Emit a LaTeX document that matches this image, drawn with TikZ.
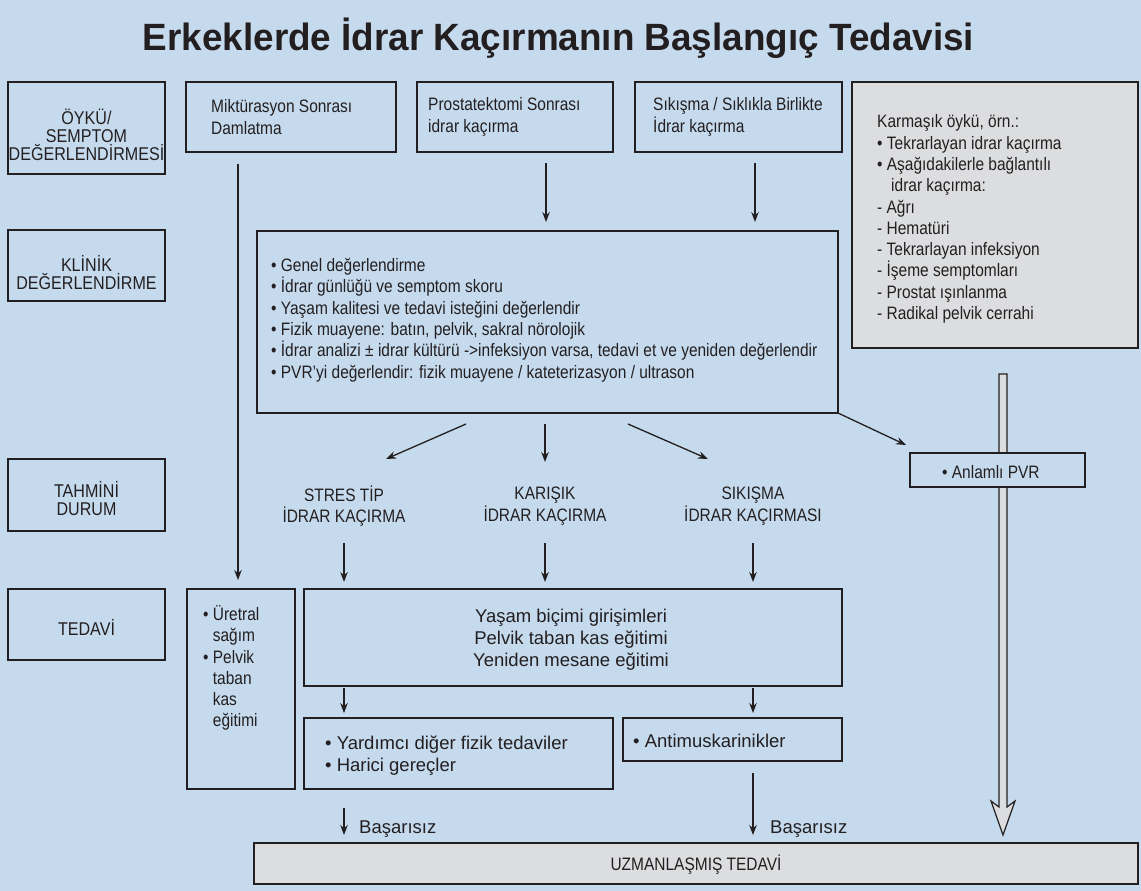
\documentclass[tikz,border=0pt]{standalone}
\usepackage{fontspec}
\setmainfont{Liberation Sans}
\newfontfamily\condf{Liberation Sans}[FakeStretch=0.86]
\newfontfamily\labf{Liberation Sans}[FakeStretch=0.87]
\newfontfamily\titlef{Liberation Sans}[FakeStretch=0.97]
\usetikzlibrary{arrows.meta,calc}
\definecolor{bgblue}{RGB}{198,218,238}
\definecolor{boxgray}{RGB}{220,221,223}
\definecolor{ink}{RGB}{35,31,32}
\tikzset{
 box/.style={draw=ink, line width=1.5pt, fill=bgblue, inner sep=0pt, outer sep=0pt},
 graybox/.style={box, fill=boxgray},
 ctext/.style={text=ink, inner sep=0pt, font=\condf\fontsize{18}{21.3}\selectfont},
 ltext/.style={text=ink, inner sep=0pt, font=\labf\fontsize{18.5}{18}\selectfont, align=center},
 rtext/.style={text=ink, inner sep=0pt, font=\fontsize{18.5}{22}\selectfont},
 arr/.style={draw=ink, line width=1.3pt, -{Stealth[length=10pt,width=7.5pt]}},
}
\begin{document}
\begin{tikzpicture}[x=1pt,y=-1pt]
\fill[bgblue] (0,0) rectangle (1141,891);
\useasboundingbox (0,0) rectangle (1141,891);

\node[text=ink, inner sep=0pt, font=\titlef\bfseries\fontsize{38}{40}\selectfont, anchor=base] (title) at (558.5,51) {Erkeklerde İdrar Kaçırmanın Başlangıç Tedavisi};

% hollow double arrow (behind the PVR box)
\coordinate (dtop) at (1003,374);
\coordinate (dtip) at (1003,835);
\filldraw[fill=boxgray, draw=ink, line width=1.2pt] ($(dtop)+(-4,0)$) -- ($(dtop)+(4,0)$) -- ($(dtip)+(4,-28)$) -- ($(dtip)+(12,-34)$) -- (dtip) -- ($(dtip)+(-12,-34)$) -- ($(dtip)+(-4,-28)$) -- cycle;

% boxes
\node[box, minimum width=157pt, minimum height=92pt] (lab1) at (86.5,128) {};
\node[box, minimum width=157pt, minimum height=71pt] (lab2) at (86.5,265.5) {};
\node[box, minimum width=157pt, minimum height=72pt] (lab3) at (86.5,495) {};
\node[box, minimum width=157pt, minimum height=71pt] (lab4) at (86.5,624.5) {};
\node[box, minimum width=210pt, minimum height=70pt] (mikt) at (291,117) {};
\node[box, minimum width=196pt, minimum height=70pt] (prost) at (515,117) {};
\node[box, minimum width=207pt, minimum height=70pt] (sik) at (738.5,117) {};
\node[graybox, minimum width=286pt, minimum height=266pt] (karm) at (995,215) {};
\node[box, minimum width=581pt, minimum height=182pt] (clin) at (547.5,322) {};
\node[box, minimum width=175pt, minimum height=34pt] (pvr) at (997.5,470) {};
\node[box, minimum width=108pt, minimum height=200pt] (uret) at (241,689) {};
\node[box, minimum width=538pt, minimum height=97pt] (life) at (573,637.5) {};
\node[box, minimum width=309pt, minimum height=71pt] (yard) at (458.5,753.5) {};
\node[box, minimum width=219pt, minimum height=43pt] (anti) at (732.5,739.5) {};
\node[graybox, minimum width=884pt, minimum height=41pt] (uzm) at (696,863.5) {};

% texts
\node[ltext] (lab1t) at (86.5,135) {ÖYKÜ/\\SEMPTOM\\DEĞERLENDİRMESİ};
\node[ltext] (lab2t) at (86.5,273) {KLİNİK\\DEĞERLENDİRME};
\node[ltext] (lab3t) at (86.5,499) {TAHMİNİ\\DURUM};
\node[ltext] (lab4t) at (86.5,627) {TEDAVİ};

\node[ctext, align=left, anchor=west] (miktt) at (211,117) {Miktürasyon Sonrası\\Damlatma};
\node[ctext, align=left, anchor=west] (prostt) at (428,117) {Prostatektomi Sonrası\\idrar kaçırma};
\node[ctext, align=left, anchor=west] (sikt) at (653,117) {Sıkışma / Sıklıkla Birlikte\\İdrar kaçırma};
\node[ctext, align=left, anchor=west] (karmt) at (877,219) {Karmaşık öykü, örn.:\\• Tekrarlayan idrar kaçırma\\• Aşağıdakilerle bağlantılı\\ \hspace*{14pt}idrar kaçırma:\\- Ağrı\\- Hematüri\\- Tekrarlayan infeksiyon\\- İşeme semptomları\\- Prostat ışınlanma\\- Radikal pelvik cerrahi};
\node[ctext, align=left, anchor=west] (clint) at (271,320) {• Genel değerlendirme\\• İdrar günlüğü ve semptom skoru\\• Yaşam kalitesi ve tedavi isteğini değerlendir\\• Fizik muayene: batın, pelvik, sakral nörolojik\\• İdrar analizi ± idrar kültürü ->infeksiyon varsa, tedavi et ve yeniden değerlendir\\• PVR’yi değerlendir: fizik muayene / kateterizasyon / ultrason};
\node[ctext, anchor=west] (pvrt) at (942,472) {• Anlamlı PVR};
\node[ctext, align=center] (stres) at (344,506) {STRES TİP\\İDRAR KAÇIRMA};
\node[ctext, align=center] (karis) at (545,506) {KARIŞIK\\İDRAR KAÇIRMA};
\node[ctext, align=center] (sikis) at (753,506) {SIKIŞMA\\İDRAR KAÇIRMASI};
\node[rtext, align=center] (lifet) at (571,640) {Yaşam biçimi girişimleri\\Pelvik taban kas eğitimi\\Yeniden mesane eğitimi};
\node[ctext, align=left, anchor=west] (urett) at (203,668) {• Üretral\\ \hspace*{9.7pt}sağım\\• Pelvik\\ \hspace*{9.7pt}taban\\ \hspace*{9.7pt}kas\\ \hspace*{9.7pt}eğitimi};
\node[rtext, align=left, anchor=west] (yardt) at (325,756) {• Yardımcı diğer fizik tedaviler\\• Harici gereçler};
\node[rtext, anchor=west] (antit) at (633,741) {• Antimuskarinikler};
\node[ctext] (uzmt) at (696,865) {UZMANLAŞMIŞ TEDAVİ};
\node[rtext, anchor=west] (bas1) at (359,829) {Başarısız};
\node[rtext, anchor=west] (bas2) at (770,829) {Başarısız};

% connector columns
\coordinate (cM) at (238,0);
\coordinate (cP) at (546,0);
\coordinate (cS) at (755,0);
\coordinate (c1) at (344,0);
\coordinate (c2) at (545,0);
\coordinate (c3) at (753,0);
\coordinate (d1a) at (466,424);
\coordinate (d1b) at (386,459);
\coordinate (d3a) at (628,424);
\coordinate (d3b) at (708,459);
\coordinate (m2) at (545,462);
\coordinate (pvrin) at (906,445);
\coordinate (s1a) at (344,543);
\coordinate (s2a) at (545,543);
\coordinate (s3a) at (753,543);

\draw[arr, shorten <=12pt, shorten >=9pt] (mikt.south -| cM) -- (uret.north -| cM);
\draw[arr, shorten <=11pt, shorten >=9pt] (prost.south -| cP) -- (clin.north -| cP);
\draw[arr, shorten <=11pt, shorten >=9pt] (sik.south -| cS) -- (clin.north -| cS);
\draw[arr] (d1a) -- (d1b);
\draw[arr, shorten <=11pt] (clin.south -| c2) -- (m2);
\draw[arr] (d3a) -- (d3b);
\draw[arr] (clin.south east) -- (pvrin);
\draw[arr, shorten >=7pt] (s1a) -- (life.north -| s1a);
\draw[arr, shorten >=7pt] (s2a) -- (life.north -| s2a);
\draw[arr, shorten >=7pt] (s3a) -- (life.north -| s3a);
\draw[arr, shorten <=2pt, shorten >=5pt] (life.south -| c1) -- (yard.north -| c1);
\draw[arr, shorten <=2pt, shorten >=5pt] (life.south -| c3) -- (anti.north -| c3);
\draw[arr, shorten <=19pt, shorten >=8pt] (yard.south -| c1) -- (uzm.north -| c1);
\draw[arr, shorten <=12pt, shorten >=8pt] (anti.south -| c3) -- (uzm.north -| c3);
\end{tikzpicture}
\end{document}
